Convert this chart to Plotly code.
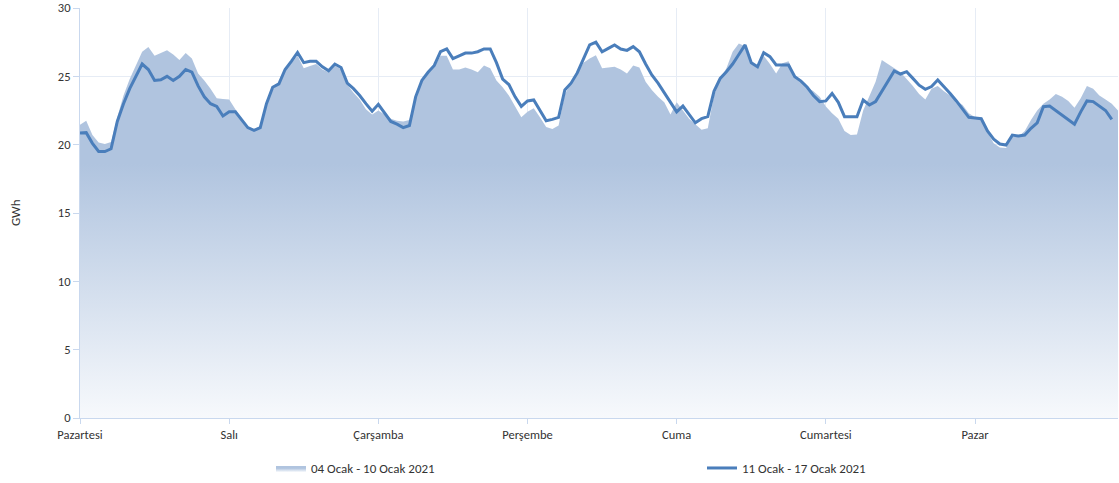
import plotly.graph_objects as go

day_labels = ["Pazartesi", "Salı", "Çarşamba", "Perşembe", "Cuma", "Cumartesi", "Pazar"]
day_ticks = [0, 24, 48, 72, 96, 120, 144]

prev_name = "04 Ocak - 10 Ocak 2021"
curr_name = "11 Ocak - 17 Ocak 2021"

# 04-10 Ocak 2021 (hourly, GWh)
prev_week = [
    21.45, 21.75, 20.7, 20.15, 20.05, 20.2, 22.0, 23.6, 24.8, 25.8, 26.8, 27.15,
    26.5, 26.7, 26.9, 26.6, 26.2, 26.7, 26.3, 25.2, 24.7, 24.1, 23.4, 23.35,
    23.3, 22.6, 21.9, 21.3, 21.0, 21.2, 23.0, 24.1, 24.4, 25.4, 26.0, 26.5,
    25.6, 25.75, 25.9, 25.5, 25.3, 25.8, 25.5, 24.4, 23.8, 23.3, 22.6, 22.2,
    22.5, 22.2, 21.9, 21.75, 21.7, 21.8, 23.4, 24.6, 25.2, 25.7, 26.5, 26.5,
    25.5, 25.5, 25.65, 25.5, 25.3, 25.8, 25.6, 24.7, 24.2, 23.6, 22.8, 22.0,
    22.4, 22.66, 22.0, 21.3, 21.15, 21.4, 23.7, 24.5, 25.3, 26.0, 26.3, 26.55,
    25.6, 25.65, 25.7, 25.5, 25.2, 25.8, 25.65, 24.6, 24.0, 23.5, 23.1, 22.2,
    23.1, 22.5, 21.9, 21.5, 21.1, 21.2, 23.6, 24.8, 25.6, 26.8, 27.4, 27.2,
    26.0, 25.6, 26.5, 25.9, 25.2, 25.95, 26.1, 25.0, 24.6, 24.2, 23.9, 23.5,
    22.8, 22.3, 21.9, 21.0, 20.7, 20.75, 22.5, 23.6, 24.6, 26.2, 25.9, 25.6,
    25.3, 24.8, 24.3, 23.7, 23.3, 24.1, 24.3, 23.9, 23.6, 23.2, 22.9, 22.3,
    22.0, 21.9, 20.9, 20.1, 19.8, 19.75, 20.6, 20.6, 21.0, 21.8, 22.5, 23.0,
    23.3, 23.7, 23.5, 23.2, 22.7, 23.4, 24.3, 24.1, 23.6, 23.3, 23.0, 22.5,
]

# 11-17 Ocak 2021 (hourly, GWh)
curr_week = [
    20.85, 20.88, 20.1, 19.5, 19.5, 19.7, 21.7, 23.0, 24.1, 25.0, 25.9, 25.5,
    24.7, 24.75, 25.0, 24.7, 25.0, 25.5, 25.3, 24.3, 23.5, 23.0, 22.8, 22.1,
    22.4, 22.4, 21.8, 21.25, 21.05, 21.25, 23.0, 24.2, 24.45, 25.5, 26.1, 26.75,
    26.0, 26.1, 26.1, 25.7, 25.4, 25.9, 25.65, 24.5, 24.1, 23.6, 23.0, 22.45,
    22.95, 22.3, 21.7, 21.5, 21.25, 21.4, 23.5, 24.7, 25.3, 25.8, 26.8, 27.0,
    26.3, 26.5, 26.7, 26.7, 26.8, 27.0, 27.0, 26.0, 24.8, 24.4, 23.5, 22.8,
    23.2, 23.27, 22.5, 21.75, 21.85, 22.0, 24.0, 24.5, 25.25, 26.3, 27.3, 27.5,
    26.8, 27.05, 27.3, 27.0, 26.9, 27.17, 26.8, 25.9, 25.1, 24.5, 23.8, 23.15,
    22.4, 22.83, 22.2, 21.6, 21.9, 22.05, 23.9, 24.85, 25.34, 25.9, 26.6, 27.3,
    26.0, 25.7, 26.73, 26.44, 25.83, 25.83, 25.83, 24.97, 24.65, 24.2, 23.6, 23.15,
    23.2, 23.75, 23.1, 22.05, 22.05, 22.05, 23.27, 22.9, 23.15, 23.9, 24.7, 25.4,
    25.17, 25.34, 24.85, 24.35, 24.05, 24.25, 24.73, 24.25, 23.75, 23.2, 22.6, 22.0,
    21.95, 21.9, 21.0, 20.4, 20.05, 19.97, 20.7, 20.63, 20.7, 21.2, 21.6, 22.78,
    22.83, 22.5, 22.2, 21.85, 21.5, 22.4, 23.2, 23.15, 22.85, 22.5, 21.85,
]

font_family = "Carlito, Calibri, 'Liberation Sans', Arial, sans-serif"

fig = go.Figure()
fig.add_trace(go.Scatter(
    x=list(range(len(prev_week))), y=prev_week,
    name=prev_name, mode="lines", fill="tozeroy",
    line=dict(width=0, color="#b0c4df"),
    fillgradient=dict(
        type="vertical", start=0, stop=30,
        colorscale=[[0, "#f7f9fc"], [0.62, "#b0c4df"], [1, "#b0c4df"]],
    ),
    hoverinfo="skip",
))
fig.add_trace(go.Scatter(
    x=list(range(len(curr_week))), y=curr_week,
    name=curr_name, mode="lines",
    line=dict(width=3, color="#4a7ebb"),
))

grid_c = "#e6ecf5"
axis_c = "#c9d8ee"

fig.update_layout(
    width=1119, height=483,
    margin=dict(l=80, r=1, t=8, b=65, autoexpand=False),
    paper_bgcolor="white", plot_bgcolor="white",
    font=dict(family=font_family, size=12.5, color="#333333"),
    showlegend=True,
    legend=dict(
        orientation="h", x=0.184, y=-0.122, xanchor="left", yanchor="middle",
        font=dict(size=13, color="#333333"),
        entrywidth=386, entrywidthmode="pixels",
        bgcolor="rgba(0,0,0,0)",
    ),
    xaxis=dict(
        range=[0, 167], tickmode="array", tickvals=day_ticks, ticktext=day_labels,
        showgrid=True, gridcolor=grid_c, gridwidth=1,
        showline=True, linecolor=axis_c, linewidth=1,
        ticks="outside", ticklen=5, tickcolor=axis_c,
        zeroline=False, fixedrange=True,
    ),
    yaxis=dict(
        range=[0, 30], tickmode="array", tickvals=[0, 5, 10, 15, 20, 25, 30],
        showgrid=True, gridcolor=grid_c, gridwidth=1,
        showline=True, linecolor=axis_c, linewidth=1,
        ticks="outside", ticklen=6, tickcolor=axis_c,
        zeroline=False, fixedrange=True,
    ),
    annotations=[dict(
        text="GWh", xref="paper", yref="paper", x=-0.0626, y=0.5,
        xanchor="center", yanchor="middle", textangle=-90, showarrow=False,
        font=dict(size=13, color="#333333"),
    )],
)

fig.write_html(
    "out.html",
    config={"displayModeBar": False},
    post_script="document.body.style.margin='0';",
)
